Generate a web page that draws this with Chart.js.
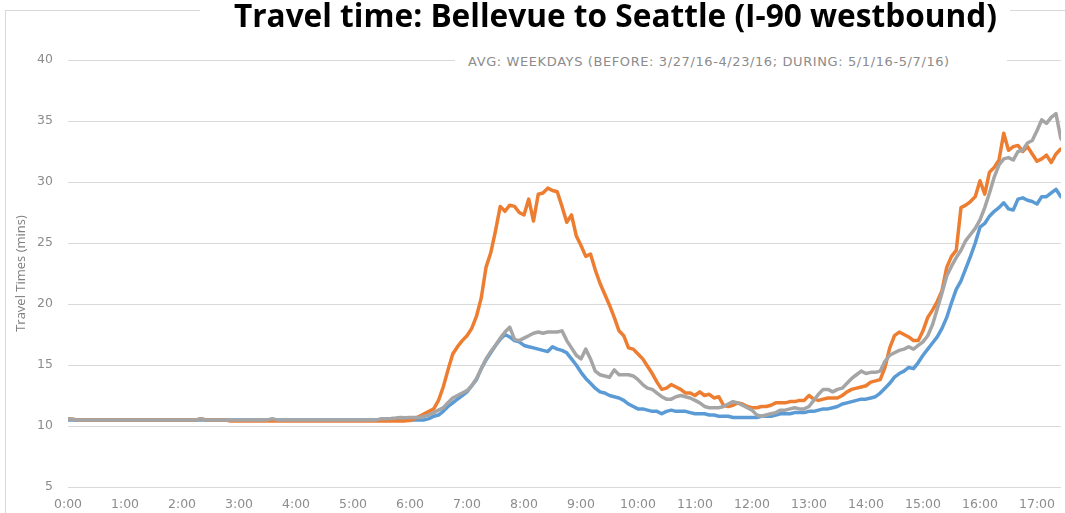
<!DOCTYPE html>
<html>
<head>
<meta charset="utf-8">
<title>Travel time: Bellevue to Seattle (I-90 westbound)</title>
<script src="https://cdn.jsdelivr.net/npm/chart.js@4"></script>
<style>
  html, body { margin: 0; padding: 0; background: #fff; }
  #wrap { position: relative; width: 1065px; height: 513px; overflow: hidden; }
  #frame { position: absolute; left: 5px; top: 10px; width: 1200px; height: 700px;
           border-left: 1px solid #d9d9d9; border-top: 1px solid #d9d9d9; }
  #chartBox { position: absolute; left: 0; top: 0; width: 1065px; height: 513px; }
  #title { position: absolute; left: 200px; width: 810px; top: -1px; height: 31px;
           box-sizing: border-box; padding-right: 13px;
           background: #fff; text-align: right; white-space: nowrap;
           font: bold 31.6px "Open Sans", sans-serif; line-height: 32px; color: #000; }
  #subtitle { position: absolute; left: 455px; width: 552px; top: 52px; height: 20px;
              box-sizing: border-box; padding-left: 13px;
              background: #fff; text-align: left; white-space: nowrap;
              font: 13px "DejaVu Sans", sans-serif; letter-spacing: 0.6px;
              line-height: 20px; color: #8c8c8c; }
</style>
</head>
<body>
<div id="wrap">
  <div id="frame"></div>
  <div id="chartBox"><canvas id="travelChart"></canvas></div>
  <div id="title">Travel time: Bellevue to Seattle (I-90 westbound)</div>
  <div id="subtitle">AVG: WEEKDAYS (BEFORE: 3/27/16-4/23/16; DURING: 5/1/16-5/7/16)</div>
</div>
<script>
// x positions: hours since midnight, one sample every 5 minutes (0:00 .. 17:30)
const times = Array.from({ length: 211 }, (_, i) => i / 12);

// hour tick labels
const hourTicks = [0, 1, 2, 3, 4, 5, 6, 7, 8, 9, 10, 11, 12, 13, 14, 15, 16, 17];
const hourLabels = ['0:00', '1:00', '2:00', '3:00', '4:00', '5:00', '6:00', '7:00', '8:00',
  '9:00', '10:00', '11:00', '12:00', '13:00', '14:00', '15:00', '16:00', '17:00'];

// blue series (minutes), 12 values per hour
const blueTimes = [
  10.5, 10.5, 10.5, 10.5, 10.5, 10.5, 10.5, 10.5, 10.5, 10.5, 10.5, 10.5,
  10.5, 10.5, 10.5, 10.5, 10.5, 10.5, 10.5, 10.5, 10.5, 10.5, 10.5, 10.5,
  10.5, 10.5, 10.5, 10.5, 10.5, 10.5, 10.5, 10.5, 10.5, 10.5, 10.5, 10.5,
  10.5, 10.5, 10.5, 10.5, 10.5, 10.5, 10.5, 10.5, 10.5, 10.5, 10.5, 10.5,
  10.5, 10.5, 10.5, 10.5, 10.5, 10.5, 10.5, 10.5, 10.5, 10.5, 10.5, 10.5,
  10.5, 10.5, 10.5, 10.5, 10.5, 10.5, 10.5, 10.5, 10.5, 10.5, 10.5, 10.5,
  10.5, 10.5, 10.5, 10.5, 10.6, 10.8, 10.9, 11.2, 11.6, 11.9, 12.2, 12.5,
  12.8, 13.3, 13.8, 14.7, 15.4, 16.0, 16.6, 17.1, 17.5, 17.3, 17.0, 16.9,
  16.6, 16.5, 16.4, 16.3, 16.2, 16.1, 16.5, 16.3, 16.2, 16.0, 15.5, 15.0,
  14.4, 13.9, 13.5, 13.1, 12.8, 12.7, 12.5, 12.4, 12.3, 12.1, 11.8, 11.6,
  11.4, 11.4, 11.3, 11.2, 11.2, 11.0, 11.2, 11.3, 11.2, 11.2, 11.2, 11.1,
  11.0, 11.0, 11.0, 10.9, 10.9, 10.8, 10.8, 10.8, 10.7, 10.7, 10.7, 10.7,
  10.7, 10.7, 10.8, 10.8, 10.8, 10.9, 11.0, 11.0, 11.0, 11.1, 11.1, 11.1,
  11.2, 11.2, 11.3, 11.4, 11.4, 11.5, 11.6, 11.8, 11.9, 12.0, 12.1, 12.2,
  12.2, 12.3, 12.4, 12.7, 13.1, 13.5, 14.0, 14.3, 14.5, 14.8, 14.7, 15.2,
  15.8, 16.3, 16.8, 17.3, 18.0, 18.9, 20.1, 21.2, 21.9, 22.9, 23.9, 25.0,
  26.3, 26.6, 27.2, 27.6, 27.9, 28.3, 27.8, 27.7, 28.6, 28.7, 28.5, 28.4,
  28.2, 28.8, 28.8, 29.1, 29.4, 28.8, 28.6
];

// orange series (minutes)
const orangeTimes = [
  10.6, 10.55, 10.5, 10.5, 10.5, 10.5, 10.5, 10.5, 10.5, 10.5, 10.5, 10.5,
  10.5, 10.5, 10.5, 10.5, 10.5, 10.5, 10.5, 10.5, 10.5, 10.5, 10.5, 10.5,
  10.5, 10.5, 10.5, 10.5, 10.6, 10.5, 10.5, 10.5, 10.5, 10.5, 10.42, 10.42,
  10.42, 10.42, 10.42, 10.42, 10.42, 10.42, 10.42, 10.42, 10.42, 10.42, 10.42, 10.42,
  10.42, 10.42, 10.42, 10.42, 10.42, 10.42, 10.42, 10.42, 10.42, 10.42, 10.42, 10.42,
  10.42, 10.42, 10.42, 10.42, 10.42, 10.42, 10.42, 10.42, 10.42, 10.42, 10.42, 10.42,
  10.45, 10.6, 10.8, 11.0, 11.2, 11.4, 12.1, 13.2, 14.6, 15.9, 16.5, 17.0,
  17.4, 18.0, 19.0, 20.5, 23.0, 24.2, 26.0, 28.0, 27.6, 28.1, 28.0, 27.5,
  27.3, 28.6, 26.8, 29.0, 29.1, 29.5, 29.3, 29.2, 28.0, 26.7, 27.3, 25.6,
  24.8, 23.9, 24.1, 22.8, 21.7, 20.8, 19.9, 18.9, 17.8, 17.4, 16.4, 16.3,
  15.9, 15.5, 14.9, 14.3, 13.6, 13.0, 13.1, 13.4, 13.2, 13.0, 12.7, 12.7,
  12.5, 12.8, 12.5, 12.6, 12.3, 12.4, 11.7, 11.6, 11.7, 11.9, 11.8, 11.6,
  11.5, 11.5, 11.6, 11.6, 11.7, 11.9, 11.9, 11.9, 12.0, 12.0, 12.1, 12.1,
  12.5, 12.2, 12.1, 12.2, 12.3, 12.3, 12.3, 12.5, 12.8, 13.0, 13.1, 13.2,
  13.3, 13.6, 13.7, 13.8, 14.8, 16.4, 17.4, 17.7, 17.5, 17.3, 17.0, 17.0,
  17.8, 18.9, 19.5, 20.2, 21.1, 23.0, 23.9, 24.4, 27.9, 28.1, 28.4, 28.8,
  30.1, 29.0, 30.8, 31.2, 31.8, 34.0, 32.6, 32.9, 33.0, 32.5, 32.9, 32.3,
  31.7, 31.9, 32.2, 31.6, 32.3, 32.7, 32.5
];

// gray series (minutes)
const grayTimes = [
  10.6, 10.55, 10.5, 10.5, 10.5, 10.5, 10.5, 10.5, 10.5, 10.5, 10.5, 10.5,
  10.5, 10.5, 10.5, 10.5, 10.5, 10.5, 10.5, 10.5, 10.5, 10.5, 10.5, 10.5,
  10.5, 10.5, 10.5, 10.5, 10.6, 10.5, 10.5, 10.5, 10.5, 10.5, 10.5, 10.5,
  10.5, 10.5, 10.5, 10.5, 10.5, 10.5, 10.5, 10.6, 10.5, 10.5, 10.5, 10.5,
  10.5, 10.5, 10.5, 10.5, 10.5, 10.5, 10.5, 10.5, 10.5, 10.5, 10.5, 10.5,
  10.5, 10.5, 10.5, 10.5, 10.5, 10.5, 10.6, 10.6, 10.62, 10.65, 10.7, 10.68,
  10.7, 10.7, 10.7, 10.8, 10.9, 11.1, 11.3, 11.5, 11.9, 12.3, 12.5, 12.7,
  12.9, 13.3, 13.9, 14.7, 15.5, 16.1, 16.6, 17.2, 17.7, 18.1, 17.1, 17.0,
  17.2, 17.4, 17.6, 17.7, 17.6, 17.7, 17.7, 17.7, 17.8, 17.0, 16.4, 15.8,
  15.5, 16.3, 15.5, 14.5, 14.2, 14.1, 14.0, 14.6, 14.2, 14.2, 14.2, 14.1,
  13.8, 13.4, 13.1, 13.0, 12.7, 12.4, 12.2, 12.2, 12.4, 12.5, 12.4, 12.3,
  12.1, 11.9, 11.6, 11.5, 11.5, 11.5, 11.6, 11.8, 12.0, 11.9, 11.7, 11.5,
  11.3, 10.9, 10.8, 10.9, 11.0, 11.1, 11.3, 11.3, 11.4, 11.5, 11.4, 11.4,
  11.6, 12.1, 12.6, 13.0, 13.0, 12.8, 13.0, 13.1, 13.5, 13.9, 14.2, 14.5,
  14.3, 14.4, 14.4, 14.5, 15.3, 15.8, 16.0, 16.2, 16.3, 16.5, 16.3, 16.6,
  16.9, 17.4, 18.3, 19.6, 20.9, 22.3, 23.1, 23.8, 24.4, 25.2, 25.7, 26.2,
  26.9, 27.9, 29.1, 30.4, 31.4, 31.9, 32.0, 31.8, 32.5, 32.6, 33.2, 33.4,
  34.2, 35.1, 34.8, 35.3, 35.6, 33.6, 33.0
];

function toPoints(values) {
  return values.map((v, i) => ({ x: times[i], y: v }));
}

const tickFont = { family: '"DejaVu Sans", sans-serif', size: 12.5 };
const tickColor = '#8c8c8c';

new Chart(document.getElementById('travelChart'), {
  type: 'line',
  data: {
    datasets: [
      { label: 'Blue', data: toPoints(blueTimes), borderColor: '#5b9bd5', order: 3 },
      { label: 'Orange', data: toPoints(orangeTimes), borderColor: '#ed7d31', order: 2 },
      { label: 'Gray', data: toPoints(grayTimes), borderColor: '#a5a5a5', order: 1 },
    ],
  },
  options: {
    responsive: true,
    maintainAspectRatio: false,
    animation: false,
    layout: { padding: { top: 60, left: 0, right: 0, bottom: 0 } },
    elements: {
      line: { borderWidth: 3.5, tension: 0, borderJoinStyle: 'round', fill: false },
      point: { radius: 0 },
    },
    plugins: {
      legend: { display: false },
      tooltip: { enabled: false },
    },
    scales: {
      x: {
        type: 'linear',
        min: 0,
        max: 17.42,
        grid: { display: false, drawTicks: false },
        border: { display: false },
        afterBuildTicks: (scale) => { scale.ticks = hourTicks.map((value) => ({ value })); },
        afterFit: (scale) => { scale.height = 26; },
        ticks: {
          autoSkip: false,
          maxRotation: 0,
          padding: 10,
          color: tickColor,
          font: tickFont,
          callback: (value, index) => hourLabels[index],
        },
      },
      y: {
        min: 5,
        max: 40,
        afterFit: (scale) => { scale.width = 68; },
        grid: { color: '#d9d9d9', drawTicks: false },
        border: { display: false },
        ticks: { stepSize: 5, padding: 15, color: tickColor, font: tickFont },
        title: {
          display: true,
          text: 'Travel Times (mins)',
          color: '#7f7f7f',
          font: { family: '"Open Sans", sans-serif', size: 13 },
          padding: { top: 13, bottom: 0 },
        },
      },
    },
  },
});
</script>
</body>
</html>
